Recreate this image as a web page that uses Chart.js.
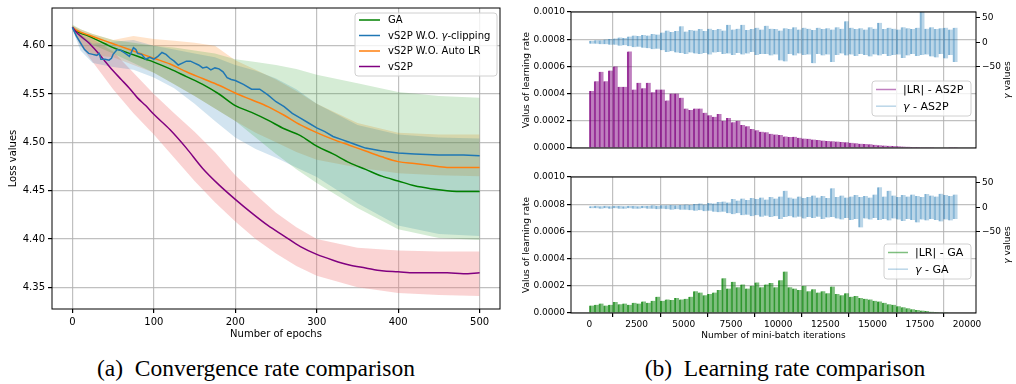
<!DOCTYPE html>
<html>
<head>
<meta charset="utf-8">
<script src="https://cdn.jsdelivr.net/npm/chart.js@4"></script>
<style>
body{margin:0;background:#fff;width:1016px;height:384px;overflow:hidden;position:relative}
.box{position:absolute}
.cap{position:absolute;top:355px;font-family:"Liberation Serif","Times New Roman",serif;font-size:23.5px;text-align:center;color:#000;white-space:nowrap}
</style>
</head>
<body>
<div class="box" style="left:0;top:0;width:510px;height:345px"><canvas id="LossChartHTML"></canvas></div>
<div class="box" style="left:510px;top:0;width:506px;height:165px"><canvas id="AS2PChartHTML"></canvas></div>
<div class="box" style="left:510px;top:165px;width:506px;height:180px"><canvas id="GAChartHTML"></canvas></div>
<div class="cap" style="left:56px;width:400px">(a)&nbsp; Convergence rate comparison</div>
<div class="cap" style="left:585px;width:400px">(b)&nbsp; Learning rate comparison</div>
<script>
//												Variable Declarations
let LossChart,AS2PChart,GAChart
const FONT='"DejaVu Sans", sans-serif'

//												Data - left panel (loss per epoch)
const lineEpochs=[0,5,10,20,30,40,50,60,70,80,90,100,120,140,160,180,200,220,240,260,280,300,320,340,360,380,400,420,440,460,480,500]
const lossGA=[4.619,4.615,4.613,4.610,4.606,4.602,4.598,4.595,4.592,4.589,4.586,4.583,4.576,4.568,4.560,4.550,4.538,4.531,4.523,4.514,4.507,4.496,4.488,4.479,4.472,4.465,4.460,4.455,4.452,4.450,4.449,4.449]
const lossNoAutoLR=[4.619,4.616,4.614,4.611,4.608,4.605,4.602,4.599,4.596,4.593,4.590,4.587,4.581,4.573,4.566,4.559,4.551,4.544,4.537,4.528,4.518,4.510,4.503,4.497,4.491,4.485,4.480,4.478,4.476,4.474,4.474,4.474]
const lossVS2P=[4.619,4.614,4.610,4.603,4.594,4.584,4.574,4.565,4.556,4.546,4.538,4.529,4.513,4.494,4.473,4.456,4.441,4.427,4.414,4.403,4.392,4.384,4.378,4.373,4.370,4.367,4.366,4.365,4.365,4.365,4.364,4.365]
const clipEpochs=[0,5,10,15,20,25,30,33,35,40,45,48,50,55,60,65,70,75,78,80,85,90,95,100,105,110,115,120,125,130,135,140,145,150,155,160,165,170,175,180,185,190,195,200,210,220,230,240,250,260,270,280,290,300,310,320,330,340,350,360,380,400,420,450,480,500]
const lossNoClip=[4.619,4.610,4.603,4.596,4.592,4.591,4.590,4.592,4.586,4.586,4.585,4.587,4.591,4.596,4.595,4.592,4.589,4.598,4.596,4.592,4.591,4.586,4.588,4.586,4.589,4.593,4.591,4.587,4.584,4.580,4.582,4.584,4.584,4.582,4.580,4.577,4.578,4.575,4.577,4.576,4.573,4.567,4.565,4.564,4.560,4.555,4.555,4.549,4.542,4.537,4.530,4.525,4.520,4.515,4.511,4.506,4.503,4.500,4.497,4.494,4.491,4.489,4.488,4.487,4.487,4.486]

const bandEpochs=[0,10,25,50,75,100,125,150,175,200,225,250,275,300,350,400,450,500]
const gaUpper=[4.622,4.617,4.612,4.606,4.603,4.600,4.598,4.595,4.592,4.586,4.583,4.580,4.576,4.570,4.561,4.552,4.548,4.546]
const gaLower=[4.617,4.608,4.601,4.592,4.582,4.572,4.560,4.548,4.535,4.522,4.505,4.488,4.472,4.458,4.432,4.410,4.401,4.399]
const noClipUpper=[4.621,4.612,4.602,4.604,4.606,4.600,4.596,4.592,4.588,4.580,4.574,4.566,4.555,4.540,4.518,4.508,4.505,4.504]
const noClipLower=[4.617,4.595,4.582,4.578,4.575,4.567,4.556,4.540,4.522,4.505,4.493,4.484,4.474,4.464,4.437,4.414,4.405,4.403]
const noAutoUpper=[4.621,4.617,4.612,4.606,4.610,4.607,4.605,4.603,4.600,4.585,4.575,4.565,4.553,4.540,4.520,4.510,4.508,4.508]
const noAutoLower=[4.617,4.600,4.590,4.588,4.580,4.572,4.560,4.548,4.535,4.522,4.510,4.500,4.490,4.482,4.474,4.468,4.466,4.465]
const vs2pUpper=[4.621,4.615,4.607,4.594,4.572,4.550,4.530,4.511,4.490,4.466,4.446,4.427,4.412,4.400,4.391,4.388,4.387,4.387]
const vs2pLower=[4.617,4.600,4.583,4.555,4.530,4.508,4.484,4.460,4.438,4.418,4.400,4.385,4.372,4.362,4.350,4.344,4.342,4.341]

const epochTicks=[0,100,200,300,400,500]
const lossTicks=[4.35,4.40,4.45,4.50,4.55,4.60]

//												Data - right panels (per 250 mini-batch iterations)
const iterStep=250
const lrAS2P=[4.2,4.9,5.6,4.9,5.7,6.0,4.5,4.5,7.1,4.3, 4.8,4.4,4.8,4.1,4.3,4.3,3.5,4.0,4.0,3.7, 2.9,2.8,2.9,2.9,2.6,2.4,2.3,2.5,2.0,2.2, 1.9,2.0,1.7,1.6,1.4,1.3,1.2,1.15,1.05,1.0, 0.95,0.85,0.8,0.82,0.75,0.7,0.68,0.62,0.58,0.55, 0.52,0.5,0.47,0.45,0.42,0.38,0.35,0.32,0.3,0.27, 0.24,0.2,0.18,0.16,0.15,0.13,0.11,0.1,0.08,0.07, 0.06,0.05,0.05,0.04,0.03,0.03,0.02,0.02]
const gammaAS2PHigh=[3,4,4,6,7,8,10,9,12,14, 13,15,14,17,16,20,24,21,23,33, 22,25,24,27,23,28,25,27,24,36, 26,28,36,25,27,30,26,34,28,27, 24,29,27,31,26,30,28,25,30,27, 29,26,31,28,43,30,27,29,26,31, 28,40,27,30,28,26,31,29,27,30, 62,28,31,27,29,30,26,30]
const gammaAS2PLow=[-3,-3,-4,-4,-5,-5,-7,-6,-8,-10, -9,-11,-12,-14,-13,-16,-20,-18,-21,-22, -24,-21,-23,-24,-22,-25,-21,-20,-24,-23, -26,-22,-25,-23,-20,-26,-24,-24,-27,-25, -37,-39,-24,-27,-23,-26,-25,-43,-24,-27, -25,-40,-26,-23,-27,-25,-28,-24,-26,-29, -25,-27,-24,-28,-26,-25,-32,-27,-24,-28, -26,-25,-29,-31,-24,-33,-26,-40]
const lrGA=[0.55,0.6,0.7,0.55,0.6,0.8,0.65,0.7,0.6,0.75, 0.7,0.85,0.75,0.9,1.2,0.9,1.0,0.95,1.1,1.0, 1.05,1.2,1.6,1.5,1.3,1.4,1.5,1.7,2.55,1.8, 2.3,1.9,2.1,1.8,2.0,2.25,1.9,2.1,2.2,1.9, 2.4,3.05,1.9,1.8,1.7,2.0,1.6,1.75,1.5,1.6, 1.45,1.95,1.4,1.3,1.45,1.2,1.25,1.1,1.05,1.0, 0.9,0.85,0.75,0.65,0.6,0.5,0.42,0.35,0.28,0.22, 0.18,0.14,0.1,0.08,0.06,0.05,0.04,0.03]
const gammaGAHigh=[2,3,2,3,2,3,3,2,3,3, 2,3,3,4,3,4,4,5,4,5, 6,5,7,8,6,9,8,11,12,10, 17,14,18,15,19,17,20,16,21,18, 22,34,20,18,22,19,21,24,20,23, 19,39,21,24,20,22,25,21,23,20, 26,41,22,34,24,21,25,22,26,23, 21,27,24,22,28,25,23,26]
const gammaGALow=[-2,-2,-3,-2,-3,-2,-3,-3,-2,-3, -3,-2,-3,-3,-4,-3,-4,-5,-4,-5, -5,-6,-7,-6,-8,-7,-9,-10,-9,-12, -14,-12,-16,-15,-18,-16,-19,-17,-20,-18, -24,-20,-18,-21,-19,-23,-20,-22,-19,-24, -21,-20,-23,-25,-22,-26,-24,-41,-23,-25, -22,-26,-24,-27,-23,-25,-28,-24,-26,-31, -25,-27,-24,-26,-29,-25,-27,-24]

const iterTicks=[0,2500,5000,7500,10000,12500,15000,17500,20000]
const lrTicks=[0,0.0002,0.0004,0.0006,0.0008,0.0010]
const gammaTicks=[-50,0,50]

//												Helper Functions
function Pts(X,Y){return X.map((x,i)=>({x:x,y:Y[i]}))}
function SetTicks(list){return function(scale){scale.ticks=list.map(v=>({value:v}))}}
function FixWidth(w){return function(scale){scale.width=w;scale.paddingTop=0;scale.paddingBottom=0}}
function FixHeight(h){return function(scale){scale.height=h;scale.paddingLeft=0;scale.paddingRight=0}}
function Minus(v){return v<0?'\u2212'+Math.abs(v):String(v)}
function PartsWidth(c,parts,size){let w=0;parts.forEach(p=>{c.font=(p[1]?'italic ':'')+size+'px '+FONT;w+=c.measureText(p[0]).width});return w}
function DrawParts(c,parts,x,y,size){parts.forEach(p=>{c.font=(p[1]?'italic ':'')+size+'px '+FONT;c.fillText(p[0],x,y);x+=c.measureText(p[0]).width})}
function Band(upper,lower,colour){return [
	{data:Pts(bandEpochs,upper),borderWidth:0,pointRadius:0,fill:false,order:20},
	{data:Pts(bandEpochs,lower),borderWidth:0,pointRadius:0,fill:'-1',backgroundColor:colour,order:20}]}
function Line(X,Y,colour,smooth,order){return {data:Pts(X,Y),borderColor:colour,borderWidth:1.5,pointRadius:0,fill:false,order:order,cubicInterpolationMode:smooth?'monotone':'default',tension:0}}

//												Plugins
const framePlugin={id:'frame',afterDraw(chart){const a=chart.chartArea,c=chart.ctx;c.save();c.strokeStyle='#000';c.lineWidth=1;c.strokeRect(a.left,a.top,a.right-a.left,a.bottom-a.top);c.restore()}}

const boxLegendPlugin={id:'boxLegend',afterDraw(chart,args,o){
	if(!o.items)return
	const c=chart.ctx,a=chart.chartArea
	const x=a.right-o.right-o.width,y=o.top
	c.save()
	c.fillStyle='rgba(255,255,255,0.8)';c.strokeStyle='#d0d0d0';c.lineWidth=1
	c.beginPath();c.roundRect(x,y,o.width,o.height,3);c.fill();c.stroke()
	c.textBaseline='middle';c.textAlign='left'
	o.items.forEach((it,i)=>{
		const cy=y+o.first+i*o.step
		c.strokeStyle=it.colour;c.lineWidth=1.5
		c.beginPath();c.moveTo(x+o.hx,cy);c.lineTo(x+o.hx+o.hlen,cy);c.stroke()
		c.fillStyle='#000';DrawParts(c,it.parts,x+o.tx,cy+0.5,o.size)
	})
	c.restore()}}

const sideTitlePlugin={id:'sideTitle',afterDraw(chart,args,o){
	if(!o.parts)return
	const c=chart.ctx,a=chart.chartArea
	c.save();c.fillStyle='#000';c.textBaseline='middle';c.textAlign='left'
	c.translate(chart.width-o.inset,(a.top+a.bottom)/2);c.rotate(-Math.PI/2)
	const w=PartsWidth(c,o.parts,o.size)
	DrawParts(c,o.parts,-w/2,0,o.size)
	c.restore()}}

Chart.defaults.font.family=FONT
Chart.defaults.color='#000'
Chart.defaults.animation=false

//												Chart - convergence
function LoadLoss(){
	LossChart=new Chart(document.getElementById('LossChartHTML'),{
		type:'line',
		plugins:[framePlugin,boxLegendPlugin],
		data:{datasets:[
			Line(clipEpochs,lossNoClip,'#1f77b4',false,0),
			Line(lineEpochs,lossVS2P,'#800080',true,1),
			Line(lineEpochs,lossNoAutoLR,'#ff7f0e',true,2),
			Line(lineEpochs,lossGA,'#008000',true,3),
			...Band(gaUpper,gaLower,'rgba(44,160,44,0.2)'),
			...Band(noClipUpper,noClipLower,'rgba(31,119,180,0.2)'),
			...Band(noAutoUpper,noAutoLower,'rgba(255,127,14,0.22)'),
			...Band(vs2pUpper,vs2pLower,'rgba(240,128,128,0.35)')
		]},
		options:{
			responsive:true,maintainAspectRatio:false,
			layout:{padding:{top:8,right:10,left:0,bottom:0}},
			plugins:{legend:{display:false},tooltip:{enabled:false},
				boxLegend:{right:3,top:13,width:142,height:63,first:7,step:15.5,hx:4,hlen:21,tx:33,size:10,items:[
					{colour:'#008000',parts:[['GA',0]]},
					{colour:'#1f77b4',parts:[['vS2P W.O. ',0],['\u03b3',1],['-clipping',0]]},
					{colour:'#ff7f0e',parts:[['vS2P W.O. Auto LR',0]]},
					{colour:'#800080',parts:[['vS2P',0]]}]}},
			scales:{
				x:{type:'linear',min:-25,max:525,offset:false,afterBuildTicks:SetTicks(epochTicks),afterFit:FixHeight(36),
					grid:{color:'rgba(176,176,176,0.8)',lineWidth:1.2,tickLength:4,tickColor:'#000'},border:{display:false},
					ticks:{font:{size:10},padding:3,maxRotation:0},
					title:{display:true,text:'Number of epochs',font:{size:10},padding:{top:0,bottom:5}}},
				y:{type:'linear',min:4.3275,max:4.639,afterBuildTicks:SetTicks(lossTicks),afterFit:FixWidth(52),
					grid:{color:'rgba(176,176,176,0.8)',lineWidth:1.2,tickLength:4,tickColor:'#000'},border:{display:false},
					ticks:{font:{size:10},padding:3,callback:v=>v.toFixed(2)},
					title:{display:true,text:'Loss values',font:{size:10},padding:{top:7,bottom:0}}}
			}
		}
	})
}

//												Chart - learning rate
function LoadLR(id,lr,gLow,gHigh,lrColour,lrDark,legendTop,legendWidth,tag,bottomAxis){
	const iterations=lr.map((v,i)=>iterStep*(i+0.5))
	return new Chart(document.getElementById(id),{
		type:'bar',
		plugins:[framePlugin,boxLegendPlugin,sideTitlePlugin],
		data:{datasets:[
			{data:iterations.map((x,i)=>({x:x,y:lr[i]*1e-4})),yAxisID:'y',grouped:false,order:1,
				backgroundColor:lrColour,borderColor:lrDark,borderWidth:{left:1.3},barPercentage:1,categoryPercentage:1},
			{data:iterations.map((x,i)=>({x:x,y:[gLow[i],gHigh[i]]})),yAxisID:'y2',grouped:false,order:2,
				backgroundColor:'rgba(31,119,180,0.3)',borderColor:'rgba(31,119,180,0.5)',borderWidth:{left:1.3},barPercentage:1,categoryPercentage:1}
		]},
		options:{
			responsive:true,maintainAspectRatio:false,
			layout:{padding:{top:12,right:0,left:0,bottom:0}},
			plugins:{legend:{display:false},tooltip:{enabled:false},
				boxLegend:{right:5,top:legendTop,width:legendWidth,height:35,first:8.5,step:16.7,hx:4,hlen:20,tx:31,size:11,items:[
					{colour:lrColour,parts:[['|LR| - '+tag,0]]},
					{colour:'rgba(31,119,180,0.3)',parts:[['\u03b3',1],[' - '+tag,0]]}]},
				sideTitle:{inset:8,size:9,parts:[['\u03b3',1],[' values',0]]}},
			scales:{
				x:{type:'linear',min:-975,max:20475,offset:false,afterBuildTicks:SetTicks(iterTicks),afterFit:FixHeight(bottomAxis?32:17),
					grid:{color:'rgba(176,176,176,0.8)',lineWidth:1.2,drawTicks:bottomAxis,tickLength:4,tickColor:'#000'},border:{display:false},
					ticks:{display:bottomAxis,font:{size:9},padding:2,maxRotation:0,callback:v=>String(v)},
					title:{display:bottomAxis,text:'Number of mini-batch iterations',font:{size:9},padding:{top:0,bottom:4}}},
				y:{type:'linear',position:'left',min:0,max:0.001,afterBuildTicks:SetTicks(lrTicks),afterFit:FixWidth(61),
					grid:{color:'rgba(176,176,176,0.8)',lineWidth:1.2,tickLength:4,tickColor:'#000'},border:{display:false},
					ticks:{font:{size:9},padding:2,callback:v=>v.toFixed(4)},
					title:{display:true,text:'Valus of learning rate',font:{size:9},padding:{top:11,bottom:0}}},
				y2:{type:'linear',position:'right',min:-216,max:62,afterBuildTicks:SetTicks(gammaTicks),afterFit:FixWidth(40),
					grid:{drawOnChartArea:false,tickLength:4,tickColor:'#000'},border:{display:false},
					ticks:{font:{size:9},padding:2,callback:v=>Minus(v)}}
			}
		}
	})
}

LoadLoss()
AS2PChart=LoadLR('AS2PChartHTML',lrAS2P,gammaAS2PLow,gammaAS2PHigh,'rgba(128,0,128,0.5)','rgba(128,0,128,0.8)',81,99,'AS2P',false)
GAChart=LoadLR('GAChartHTML',lrGA,gammaGALow,gammaGAHigh,'rgba(0,128,0,0.5)','rgba(0,128,0,0.75)',79,87,'GA',true)
</script>
</body>
</html>
